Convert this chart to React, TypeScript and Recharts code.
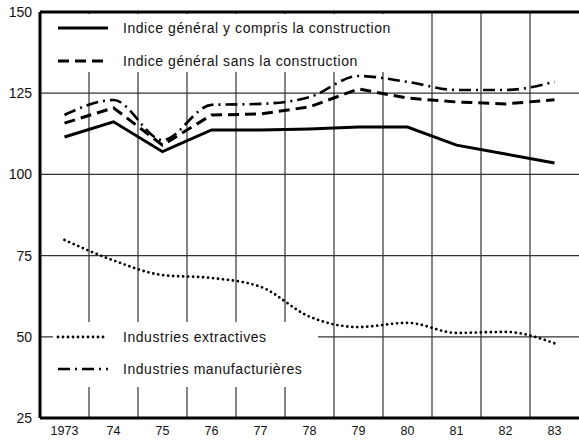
import React from 'react';
import { LineChart, Line, XAxis, YAxis, CartesianGrid, ReferenceLine, Legend } from 'recharts';

const years = ['1973', '74', '75', '76', '77', '78', '79', '80', '81', '82', '83'];
const generalAvecConstruction = [111.5, 116.2, 107, 113.7, 113.7, 114, 114.6, 114.6, 109, 106.3, 103.5];
const generalSansConstruction = [115.8, 120.5, 109, 118.3, 118.6, 120.8, 126.3, 123.5, 122.3, 121.7, 123];
const extractives = [79.8, 73.5, 69, 68.1, 65.4, 56.2, 53, 54.3, 51.2, 51.5, 48];
const manufacturieres = [118.3, 122.9, 110.6, 121.4, 121.7, 123.8, 130.3, 128.5, 126, 126, 128.5];
const yTicks = [25, 50, 75, 100, 125, 150];

const data = years.map((year, i) => ({
  i,
  year,
  gen: generalAvecConstruction[i],
  sans: generalSansConstruction[i],
  ext: extractives[i],
  man: manufacturieres[i],
}));

const xTicks = years.map((_, i) => i);
const boundaries = years.slice(1).map((_, i) => i + 0.5);

const series = [
  { key: 'gen', name: 'Indice général y compris la construction', dash: undefined as string | undefined, width: 3, type: 'linear' as const, cap: 'butt' as const },
  { key: 'sans', name: 'Indice général sans la construction', dash: '11 6', width: 3, type: 'linear' as const, cap: 'butt' as const },
  { key: 'ext', name: 'Industries extractives', dash: '0 5', width: 2.8, type: 'monotone' as const, cap: 'round' as const },
  { key: 'man', name: 'Industries manufacturières', dash: '12 5 2 5', width: 2.6, type: 'monotone' as const, cap: 'butt' as const },
];

const FONT = "'Liberation Sans', Arial, sans-serif";

const LegendRow = ({ s, top, left }: { s: typeof series[number]; top: number; left: number }) => (
  <div style={{ position: 'absolute', left, top, height: 16, width: 360, display: 'flex', alignItems: 'center' }}>
    <svg width={54} height={10} style={{ display: 'block' }}>
      <line x1={2} y1={5} x2={52} y2={5} stroke="#000" strokeWidth={s.width} strokeDasharray={s.dash} strokeLinecap={s.cap} />
    </svg>
    <span style={{ marginLeft: 13, fontFamily: FONT, fontSize: 14, letterSpacing: 0.55, color: '#111', whiteSpace: 'nowrap' }}>{s.name}</span>
  </div>
);

const LegendContent = () => (
  <div style={{ position: 'relative', width: 0, height: 0 }}>
    <div style={{ position: 'absolute', left: 42, top: 14, width: 350, height: 58, background: '#fff' }}>
      <LegendRow s={series[0]} top={6} left={14} />
      <LegendRow s={series[1]} top={39} left={14} />
    </div>
    <div style={{ position: 'absolute', left: 53, top: 322, width: 265, height: 65, background: '#fff' }}>
      <LegendRow s={series[2]} top={7} left={3} />
      <LegendRow s={series[3]} top={39} left={3} />
    </div>
  </div>
);

export default function App() {
  return (
    <div style={{ position: 'absolute', left: 0, top: 0, width: 579, height: 445, background: '#fff' }}>
      <LineChart width={579} height={445} data={data} margin={{ top: 12, right: 0, bottom: 0, left: 0 }}>
        <CartesianGrid vertical={false} stroke="#333" strokeWidth={1.2} />
        {boundaries.map((b) => (
          <ReferenceLine key={b} x={b} stroke="#333" strokeWidth={1.2} />
        ))}
        <ReferenceLine y={150} stroke="#000" strokeWidth={3} />
        <XAxis
          dataKey="i"
          type="number"
          domain={[-0.5, years.length - 0.5]}
          ticks={xTicks}
          tickFormatter={(v: number) => years[v]}
          height={27}
          tickLine={false}
          tickSize={0}
          tickMargin={8}
          axisLine={{ stroke: '#000', strokeWidth: 3 }}
          tick={{ fontFamily: FONT, fontSize: 12.5, fill: '#111' }}
          interval={0}
        />
        <YAxis
          domain={[25, 150]}
          ticks={yTicks}
          width={40}
          tickLine={false}
          tickSize={0}
          tickMargin={8}
          axisLine={{ stroke: '#000', strokeWidth: 3 }}
          tick={{ fontFamily: FONT, fontSize: 14, fill: '#111' }}
          interval={0}
        />
        {series.map((s) => (
          <Line
            key={s.key}
            dataKey={s.key}
            name={s.name}
            type={s.type}
            stroke="#000"
            strokeWidth={s.width}
            strokeDasharray={s.dash}
            strokeLinecap={s.cap}
            dot={false}
            activeDot={false}
            isAnimationActive={false}
          />
        ))}
        <Legend
          content={() => <LegendContent />}
          wrapperStyle={{ left: 0, top: 0, width: 0, height: 0, overflow: 'visible' }}
        />
      </LineChart>
    </div>
  );
}
